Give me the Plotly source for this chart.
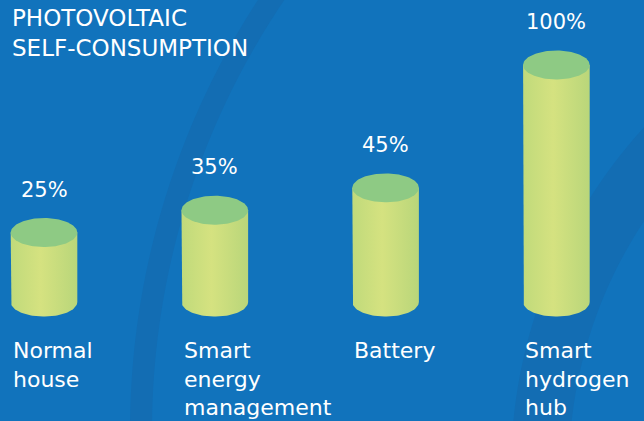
import numpy as np
import plotly.graph_objects as go

# ---------------- data ----------------
categories = ["Normal<br>house", "Smart<br>energy<br>management", "Battery", "Smart<br>hydrogen<br>hub"]
values = [25, 35, 45, 100]
value_labels = ["25%", "35%", "45%", "100%"]
title_text = "PHOTOVOLTAIC<br>SELF-CONSUMPTION"

# ---------------- style ----------------
W, H = 644, 421
BG = "#1173BC"
BAND = "#136DB3"
TOP_COLOR = "#8ECA84"
BODY_SCALE = [[0.0, "#C0DA7B"], [0.45, "#D5E280"], [1.0, "#B9D67A"]]
FONT = "DejaVu Sans"

X_FIRST_PX, X_SPACING_PX = 44.0, 170.8
ZERO_PX, PX_PER_UNIT = 288.4, 2.234
BASE = -6.1            # cylinder stub below zero
RX_PX, RY_PX = 33.3, 14.5

x0 = -X_FIRST_PX / X_SPACING_PX
x1 = (W - X_FIRST_PX) / X_SPACING_PX
y0 = -(H - ZERO_PX) / PX_PER_UNIT
y1 = ZERO_PX / PX_PER_UNIT

def px2x(px):
    return x0 + np.asarray(px) / W * (x1 - x0)

def py2y(py):
    return y1 - np.asarray(py) / H * (y1 - y0)

rx = RX_PX / X_SPACING_PX
ry = RY_PX / PX_PER_UNIT

fig = go.Figure()

# background arc bands
def band_path(cx, cy, r_in, r_out, a0, a1, n=120):
    t = np.linspace(a0, a1, n)
    ox = cx + r_out * np.cos(t); oy = cy + r_out * np.sin(t)
    ix = cx + r_in * np.cos(t[::-1]); iy = cy + r_in * np.sin(t[::-1])
    xs = px2x(np.concatenate([ox, ix])); ys = py2y(np.concatenate([oy, iy]))
    return "M " + " L ".join(f"{a:.5f},{b:.5f}" for a, b in zip(xs, ys)) + " Z"

shapes = [
    dict(type="path", path=band_path(920, 431, 768, 790, np.pi - 0.3, np.pi + 0.75),
         fillcolor=BAND, line=dict(width=0), layer="below", xref="x", yref="y"),
    dict(type="path", path=band_path(1019, 470, 450, 508, np.pi - 0.5, np.pi + 1.4),
         fillcolor=BAND, line=dict(width=0), layer="below", xref="x", yref="y"),
]

t_half = np.linspace(0, np.pi, 60)
t_full = np.linspace(0, 2 * np.pi, 120)

for i, v in enumerate(values):
    c = i
    # body
    bx = np.concatenate([[c - rx], c - rx * np.cos(t_half), [c + rx]])
    by = np.concatenate([[v], BASE - ry * np.sin(t_half), [v]])
    fig.add_trace(go.Scatter(x=bx, y=by, mode="lines", fill="toself",
                             line=dict(width=0), fillcolor="#CDE07E",
                             fillgradient=dict(type="horizontal", colorscale=BODY_SCALE),
                             hoverinfo="skip", showlegend=False))
    # top ellipse
    fig.add_trace(go.Scatter(x=c + rx * np.cos(t_full), y=v + ry * np.sin(t_full),
                             mode="lines", fill="toself", line=dict(width=0),
                             fillcolor=TOP_COLOR, hoverinfo="skip", showlegend=False))

annotations = []
for i, (v, lab, cat) in enumerate(zip(values, value_labels, categories)):
    annotations.append(dict(x=i, y=v, xref="x", yref="y", text=lab, showarrow=False,
                            yshift=43, xanchor="center", yanchor="middle",
                            font=dict(family=FONT, size=21, color="white")))
    annotations.append(dict(x=i - rx, y=float(py2y(336)), xref="x", yref="y", text=cat,
                            showarrow=False, xanchor="left", yanchor="top", align="left",
                            font=dict(family=FONT, size=22, color="white")))

annotations.append(dict(x=float(px2x(10)), y=float(py2y(3)), xref="x", yref="y",
                        text=title_text, showarrow=False, xanchor="left", yanchor="top",
                        align="left", font=dict(family=FONT, size=23, color="white")))

fig.update_layout(
    width=W, height=H, autosize=False,
    margin=dict(l=0, r=0, t=0, b=0, pad=0),
    paper_bgcolor=BG, plot_bgcolor=BG,
    xaxis=dict(range=[x0, x1], visible=False, fixedrange=True),
    yaxis=dict(range=[y0, y1], visible=False, fixedrange=True),
    shapes=shapes, annotations=annotations, showlegend=False,
)

fig.write_html("out.html", config=dict(displayModeBar=False),
               post_script="document.body.style.margin='0';document.body.style.overflow='hidden';")
